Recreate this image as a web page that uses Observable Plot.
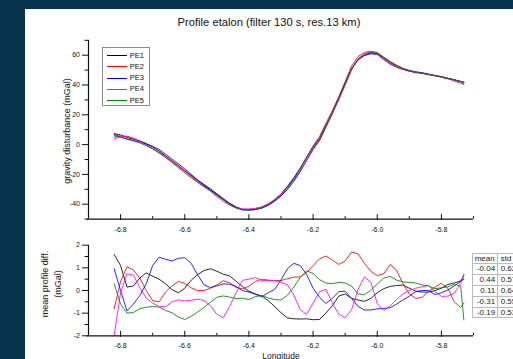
<!DOCTYPE html>
<html><head><meta charset="utf-8">
<script src="https://cdn.jsdelivr.net/npm/d3@7"></script>
<script src="https://cdn.jsdelivr.net/npm/@observablehq/plot@0.6"></script>
<style>
html,body{margin:0;padding:0;}
body{width:513px;height:359px;overflow:hidden;background:#08334c;position:relative;font-family:"Liberation Sans",Arial,sans-serif;}
#panel{position:absolute;left:25px;top:9px;width:488px;height:350px;background:#fff;overflow:hidden;}
#panel svg{position:absolute;left:0;}
.title{position:absolute;left:0;width:488px;top:7px;text-align:center;font-size:11.2px;color:#111;}
.ylab{position:absolute;transform:translate(-50%,-50%) rotate(-90deg);white-space:nowrap;font-size:9px;color:#111;text-align:center;line-height:13px;}
.xlab{position:absolute;transform:translate(-50%,-50%);font-size:8.5px;color:#111;white-space:nowrap;}
#legend{position:absolute;left:76.7px;top:38.3px;width:46px;height:57px;border:1px solid #8a8a8a;background:#fff;}
#legend .row{position:absolute;left:0;height:11px;font-size:7.5px;line-height:11px;color:#111;}
#legend .sw{position:absolute;left:4px;top:5.5px;width:20px;height:0;border-top:1px solid;}
#legend .lt{position:absolute;left:27px;top:0;}
#tbl{position:absolute;left:446.7px;top:243.7px;width:64px;table-layout:fixed;border-collapse:collapse;font-size:8px;color:#222;background:#fff;}
#tbl td{border:1px solid #bbb;height:9.8px;padding:0 1.5px;line-height:9.8px;overflow:hidden;white-space:nowrap;}
#tbl td.m{width:21px;text-align:right;}
#tbl td.s{width:36px;text-align:left;padding-left:3px;}
</style></head>
<body>
<div id="panel"></div>
<script>
// ---------- data ----------
const seriesNames = ["PE1", "PE2", "PE3", "PE4", "PE5"];
const seriesColors = ["#000000", "#ff0000", "#0000ff", "#ff00ff", "#008000"];
const lon = [-6.82,-6.80,-6.78,-6.76,-6.74,-6.72,-6.70,-6.68,-6.66,-6.64,-6.62,-6.60,-6.58,-6.56,-6.54,-6.52,-6.50,-6.48,-6.46,-6.44,-6.42,-6.40,-6.38,-6.36,-6.34,-6.32,-6.30,-6.28,-6.26,-6.24,-6.22,-6.20,-6.18,-6.16,-6.14,-6.12,-6.10,-6.08,-6.06,-6.04,-6.02,-6.00,-5.98,-5.96,-5.94,-5.92,-5.90,-5.88,-5.86,-5.84,-5.82,-5.80,-5.78,-5.76,-5.74,-5.73];
const meanProfile = [5.8,5.4,4.6,3.4,1.9,0.0,-2.2,-4.8,-7.8,-11.0,-14.3,-17.7,-21.1,-24.5,-27.6,-30.6,-33.8,-37.0,-40.0,-42.3,-43.6,-43.7,-43.4,-42.3,-40.3,-37.4,-33.6,-28.9,-23.4,-16.8,-9.3,-2.0,4.0,12.8,21.5,31.0,41.0,51.0,57.5,60.6,61.8,61.2,58.0,54.8,52.5,50.8,49.5,48.6,48.0,47.1,46.3,45.4,44.3,43.2,42.0,41.3];
const diffPE1 = [1.59,1.1,0.15,0.2,0.55,0.78,0.63,0.5,0.3,0.04,-0.1,0.1,0.45,0.7,0.88,0.96,0.85,0.72,0.64,0.41,0.17,-0.03,-0.16,-0.24,-0.45,-0.7,-0.98,-1.21,-1.25,-1.26,-1.25,-1.29,-1.28,-1.0,-0.67,-0.25,-0.15,-0.35,-0.42,-0.48,-0.35,-0.1,0.08,0.18,0.22,0.24,0.1,-0.03,-0.07,-0.07,0.0,0.1,0.27,0.33,0.42,0.5];
const diffPE2 = [-0.81,0.4,1.05,0.9,0.55,0.0,-0.45,-0.5,-0.07,0.2,0.4,0.32,0.12,0.0,0.0,0.1,0.25,0.43,0.34,0.14,0.07,0.19,0.4,0.5,0.46,0.44,0.44,0.52,0.59,0.6,0.8,1.1,1.4,1.52,1.35,1.15,1.3,1.7,1.62,1.2,0.85,0.66,0.74,1.15,0.9,0.3,-0.15,-0.35,-0.3,-0.05,0.15,0.32,0.1,-0.5,-0.75,-0.55];
const diffPE3 = [0.96,0.0,-0.9,-0.6,-0.22,0.3,1.1,1.47,1.38,1.3,1.42,1.45,1.2,0.7,0.25,0.13,0.2,0.29,0.28,0.18,0.0,-0.07,-0.16,-0.28,-0.1,0.05,0.47,0.96,1.2,1.1,0.7,0.1,-0.3,-0.57,-0.35,-0.05,-0.03,-0.35,-0.7,-0.86,-0.86,-0.81,-0.79,-0.76,-0.6,-0.42,-0.25,-0.05,0.0,0.0,-0.18,-0.1,0.02,0.2,0.4,0.7];
const diffPE4 = [-1.99,-0.1,0.74,0.68,0.12,-0.33,-0.56,-0.7,-0.72,-0.5,-0.41,-0.46,-0.43,-0.38,-0.44,-0.66,-1.05,-1.2,-0.7,-0.1,0.45,0.5,0.57,0.44,0.44,0.44,0.36,0.25,-0.2,-0.85,-1.05,-0.55,-0.05,0.05,-0.55,-1.05,-1.2,-0.85,0.05,0.6,0.37,-0.58,-0.88,-0.68,-0.4,-0.15,0.0,0.1,0.17,0.22,-0.05,-0.26,-0.25,-0.12,0.3,0.65];
const diffPE5 = [0.29,-0.6,-1.0,-0.97,-0.8,-0.74,-0.71,-0.73,-0.88,-0.98,-1.17,-1.28,-1.14,-0.95,-0.75,-0.52,-0.3,-0.24,-0.29,-0.36,-0.34,-0.4,-0.27,-0.22,-0.33,-0.4,-0.42,-0.21,0.15,0.58,0.87,0.75,0.48,0.33,0.3,0.36,0.33,0.2,-0.15,-0.18,0.0,0.29,0.55,0.62,0.46,0.38,0.36,0.33,0.25,0.2,0.08,0.12,0.16,0.27,0.2,-1.3];
const lonDomain = [-6.9, -5.7];
const topDomain = [-50, 70];
const botDomain = [-2, 2];
const xMajor = [-6.8, -6.6, -6.4, -6.2, -6.0, -5.8];
const xMinor = [-6.7, -6.5, -6.3, -6.1, -5.9, -5.7];
const yTopMajor = [-40, -20, 0, 20, 40, 60];
const yTopMinor = [-50, -30, -10, 10, 30, 50, 70];
const yBotMajor = [-2, -1, 0, 1, 2];
const yBotMinor = [-1.5, -0.5, 0.5, 1.5];
const tableHeader = ["mean", "std"];
const tableMean = ["-0.04", "0.44", "0.11", "-0.31", "-0.19"];
const tableStd = ["0.62", "0.57", "0.64", "0.55", "0.53"];
const titleText = "Profile etalon (filter 130 s, res.13 km)";

// ---------- build ----------
const diffs = [diffPE1, diffPE2, diffPE3, diffPE4, diffPE5];
const topRows = [], botRows = [];
diffs.forEach((d, i) => {
  lon.forEach((x, j) => {
    topRows.push({lon: x, v: meanProfile[j] + d[j], series: seriesNames[i]});
    botRows.push({lon: x, v: d[j], series: seriesNames[i]});
  });
});
const FONT = "'Liberation Sans', Arial, sans-serif";
const fmtX = d => d.toFixed(1);
const fmtY = d => String(d);

function makePlot(rows, yDomain, yMajor, yMinor, height, mt, mb) {
  const inner = height - mt - mb;
  return Plot.plot({
    width: 488, height,
    marginLeft: 63, marginRight: 40, marginTop: mt, marginBottom: mb,
    style: {background: "transparent", fontFamily: FONT, fontSize: "7px", color: "#111", overflow: "visible"},
    x: {domain: lonDomain},
    y: {domain: yDomain},
    color: {domain: seriesNames, range: seriesColors},
    marks: [
      Plot.line(rows, {x: "lon", y: "v", z: "series", stroke: "series", strokeWidth: 0.85}),
      Plot.ruleY([yDomain[0]], {stroke: "#111", strokeWidth: 1.2, insetLeft: -1}),
      Plot.ruleX([lonDomain[0]], {stroke: "#111", strokeWidth: 1.2}),
      Plot.tickX(xMajor, {x: d => d, insetTop: inner - 4.5, insetBottom: -1.5, stroke: "#111", strokeWidth: 1}),
      Plot.tickX(xMinor, {x: d => d, insetTop: inner - 2.5, stroke: "#111", strokeWidth: 1}),
      Plot.axisX(xMajor, {tickSize: 0, tickPadding: 7.5, tickFormat: fmtX, fontSize: 7, label: null}),
      Plot.axisY(yMajor, {tickSize: 6, tickPadding: 2.5, tickFormat: fmtY, fontSize: 7, label: null}),
      Plot.axisY(yMinor, {tickSize: 3.5, tickFormat: () => "", label: null})
    ]
  });
}

const panel = document.getElementById("panel");
const p1 = makePlot(topRows, topDomain, yTopMajor, yTopMinor, 230, 30.8, 20.4);
p1.style.top = "0px";
const p2 = makePlot(botRows, botDomain, yBotMajor, yBotMinor, 125, 10.7, 23.7);
p2.style.top = "225px";
panel.appendChild(p1);
panel.appendChild(p2);

function addDiv(cls, html, left, top) {
  const el = document.createElement("div");
  el.className = cls; el.innerHTML = html;
  if (left != null) el.style.left = left + "px";
  if (top != null) el.style.top = top + "px";
  panel.appendChild(el);
  return el;
}
addDiv("title", titleText);
addDiv("ylab", "gravity disturbance (mGal)", 41.5, 122);
addDiv("ylab", "mean profile diff.<br>(mGal)", 27, 275);
addDiv("xlab", "Longitude", 256, 346.5);

const leg = addDiv("", "", null, null);
leg.id = "legend";
seriesNames.forEach((n, i) => {
  const r = document.createElement("div");
  r.className = "row";
  r.style.top = (1.5 + i * 11.2) + "px";
  r.style.width = "46px";
  r.innerHTML = `<div class="sw" style="border-color:${seriesColors[i]}"></div><div class="lt">${n}</div>`;
  leg.appendChild(r);
});

const tbl = document.createElement("table");
tbl.id = "tbl";
let h = `<tr><td class="m" style="text-align:center">${tableHeader[0]}</td><td class="s">${tableHeader[1]}</td></tr>`;
tableMean.forEach((m, i) => { h += `<tr><td class="m">${m}</td><td class="s">${tableStd[i]}</td></tr>`; });
tbl.innerHTML = h;
panel.appendChild(tbl);
</script>
</body></html>
